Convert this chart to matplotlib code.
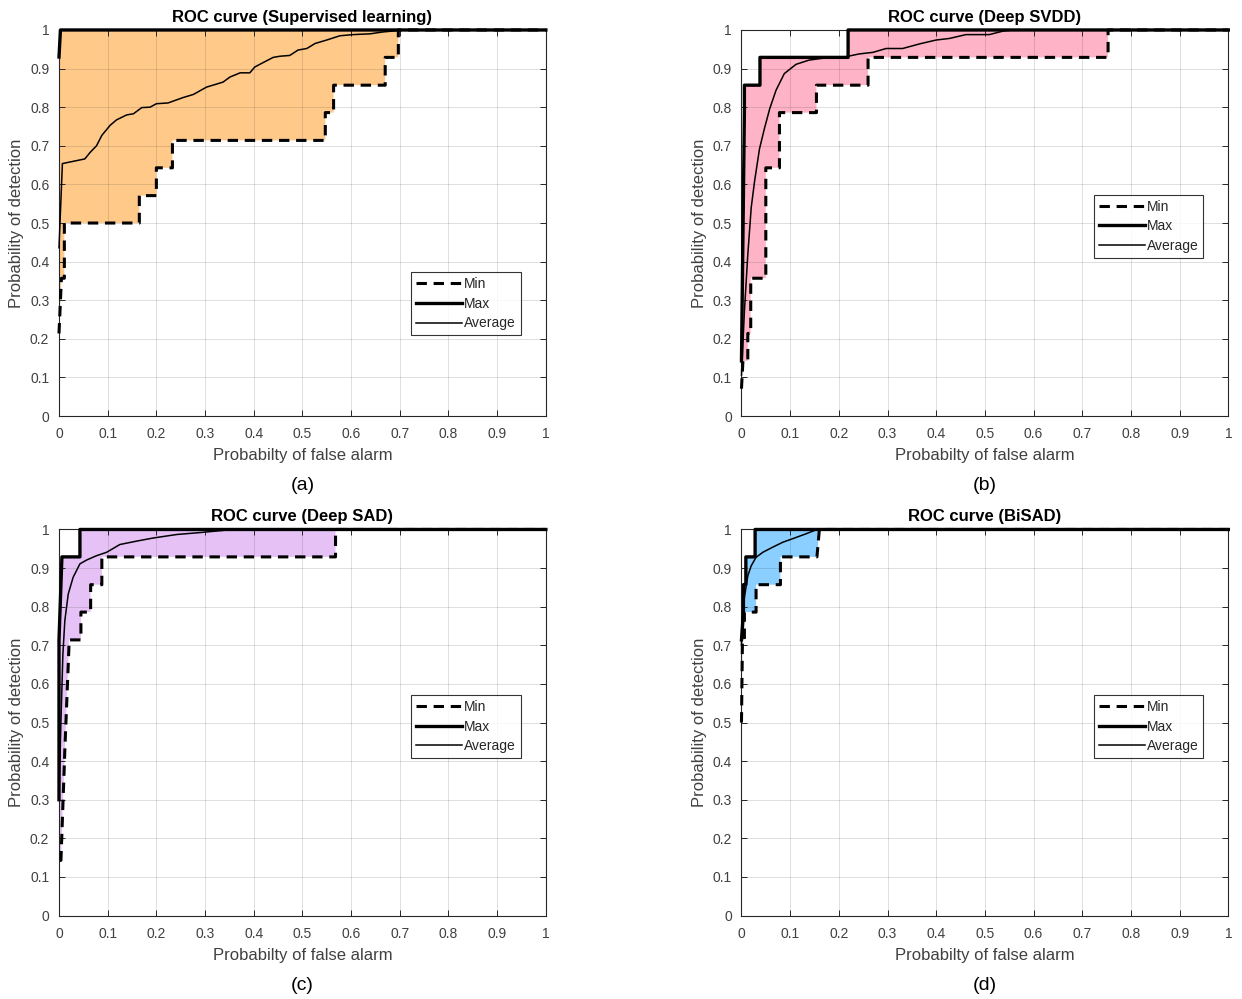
import numpy as np
import matplotlib.pyplot as plt

plt.rcParams['font.family'] = ['Liberation Sans', 'DejaVu Sans']

titles = ["ROC curve (Supervised learning)", "ROC curve (Deep SVDD)",
          "ROC curve (Deep SAD)", "ROC curve (BiSAD)"]
captions = ["(a)", "(b)", "(c)", "(d)"]
fill_colors = ["#FFC98A", "#FFB3C7", "#E6C1F6", "#8ACFFF"]

# (a) supervised learning
sup_min_x = [0, 0.005, 0.005, 0.011, 0.011, 0.165, 0.165, 0.2, 0.2, 0.233, 0.233, 0.547, 0.547,
             0.564, 0.564, 0.67, 0.67, 0.697, 0.697, 1]
sup_min_y = [0.214, 0.357, 0.357, 0.357, 0.5, 0.5, 0.571, 0.571, 0.643, 0.643, 0.714, 0.714, 0.786,
             0.786, 0.857, 0.857, 0.929, 0.929, 1, 1]
sup_max_x = [0, 0.003, 1]
sup_max_y = [0.93, 1, 1]
sup_avg_x = [0, 0.007, 0.053, 0.064, 0.077, 0.088, 0.105, 0.118, 0.139, 0.153, 0.17, 0.187, 0.2,
             0.224, 0.255, 0.276, 0.303, 0.337, 0.351, 0.372, 0.392, 0.402, 0.42, 0.44, 0.454,
             0.474, 0.491, 0.509, 0.526, 0.55, 0.577, 0.604, 0.639, 0.666, 0.693, 0.7, 1]
sup_avg_y = [0.436, 0.654, 0.666, 0.683, 0.70, 0.727, 0.753, 0.767, 0.78, 0.783, 0.799, 0.80, 0.809,
             0.811, 0.825, 0.833, 0.852, 0.865, 0.878, 0.889, 0.889, 0.904, 0.916, 0.929, 0.932,
             0.934, 0.948, 0.952, 0.965, 0.974, 0.985, 0.988, 0.99, 0.995, 0.998, 1, 1]

# (b) Deep SVDD
svdd_min_x = [0, 0.003, 0.013, 0.013, 0.019, 0.019, 0.05, 0.05, 0.078, 0.078, 0.154, 0.154,
              0.26, 0.26, 0.753, 0.753, 1]
svdd_min_y = [0.071, 0.143, 0.143, 0.214, 0.214, 0.357, 0.357, 0.643, 0.643, 0.786, 0.786, 0.857,
              0.857, 0.929, 0.929, 1, 1]
svdd_max_x = [0, 0.006, 0.006, 0.038, 0.038, 0.219, 0.219, 1]
svdd_max_y = [0.143, 0.786, 0.857, 0.857, 0.929, 0.929, 1, 1]
svdd_avg_x = [0, 0.006, 0.013, 0.02, 0.027, 0.037, 0.047, 0.058, 0.071, 0.088, 0.112, 0.139,
              0.174, 0.208, 0.242, 0.27, 0.297, 0.331, 0.366, 0.4, 0.427, 0.461, 0.509, 0.537,
              0.557, 1]
svdd_avg_y = [0.106, 0.271, 0.418, 0.54, 0.609, 0.692, 0.744, 0.796, 0.844, 0.887, 0.911, 0.922,
              0.928, 0.929, 0.938, 0.942, 0.952, 0.952, 0.964, 0.974, 0.978, 0.988, 0.988, 0.997,
              1, 1]

# (c) Deep SAD
sad_min_x = [0.002, 0.004, 0.012, 0.021, 0.045, 0.045, 0.065, 0.065, 0.088, 0.088, 0.568, 0.568, 1]
sad_min_y = [0.143, 0.143, 0.429, 0.714, 0.714, 0.786, 0.786, 0.857, 0.857, 0.929, 0.929, 1, 1]
sad_max_x = [0, 0, 0.006, 0.043, 0.043, 1]
sad_max_y = [0.30, 0.714, 0.929, 0.929, 1, 1]
sad_avg_x = [0, 0.004, 0.008, 0.012, 0.019, 0.029, 0.043, 0.057, 0.077, 0.098, 0.125, 0.16,
             0.194, 0.242, 0.29, 0.324, 0.358, 1]
sad_avg_y = [0.305, 0.504, 0.677, 0.764, 0.833, 0.876, 0.911, 0.921, 0.932, 0.941, 0.961, 0.97,
             0.978, 0.987, 0.992, 0.996, 1, 1]

# (d) BiSAD
bisad_min_x = [0, 0.002, 0.006, 0.006, 0.03, 0.03, 0.08, 0.08, 0.155, 0.16, 1]
bisad_min_y = [0.5, 0.714, 0.714, 0.786, 0.786, 0.857, 0.857, 0.929, 0.929, 1, 1]
bisad_max_x = [0, 0.004, 0.004, 0.009, 0.009, 0.028, 0.028, 1]
bisad_max_y = [0.714, 0.786, 0.857, 0.857, 0.929, 0.929, 1, 1]
bisad_avg_x = [0, 0.001, 0.006, 0.013, 0.02, 0.03, 0.044, 0.064, 0.085, 0.105, 0.133, 0.153, 1]
bisad_avg_y = [0.70, 0.764, 0.824, 0.88, 0.906, 0.928, 0.941, 0.954, 0.967, 0.976, 0.989, 0.999, 1]

curves = [
    (sup_min_x, sup_min_y, sup_max_x, sup_max_y, sup_avg_x, sup_avg_y),
    (svdd_min_x, svdd_min_y, svdd_max_x, svdd_max_y, svdd_avg_x, svdd_avg_y),
    (sad_min_x, sad_min_y, sad_max_x, sad_max_y, sad_avg_x, sad_avg_y),
    (bisad_min_x, bisad_min_y, bisad_max_x, bisad_max_y, bisad_avg_x, bisad_avg_y),
]
legend_tops = [0.372, 0.573, 0.571, 0.571]

ticks = np.round(np.arange(0, 1.01, 0.1), 1)
tick_labels = ["0" if t == 0 else ("1" if t == 1 else "%g" % t) for t in ticks]

fig = plt.figure(figsize=(12.42, 9.99), dpi=100)
lefts = [0.0475, 0.597, 0.0475, 0.597]
bottoms = [0.5835, 0.5835, 0.0835, 0.0835]

axcol = "#262626"
for i in range(4):
    ax = fig.add_axes([lefts[i], bottoms[i], 0.392, 0.3865])
    mnx, mny, mxx, mxy, avx, avy = curves[i]

    # shaded band between best and worst run
    px = np.concatenate([mxx, mnx[::-1]])
    py = np.concatenate([mxy, mny[::-1]])
    ax.fill(px, py, color=fill_colors[i], lw=0, zorder=1)

    ax.plot(mnx, mny, "k--", lw=2.2, dashes=(3.4, 2.2), label="Min", zorder=3, clip_on=False)
    ax.plot(mxx, mxy, "k-", lw=2.4, label="Max", zorder=3, clip_on=False)
    ax.plot(avx, avy, "k-", lw=1.1, label="Average", zorder=3, clip_on=False)

    ax.set_xlim(0, 1)
    ax.set_ylim(0, 1)
    ax.set_xticks(ticks)
    ax.set_yticks(ticks)
    ax.set_xticklabels(tick_labels)
    ax.set_yticklabels(tick_labels)
    ax.set_axisbelow(False)
    ax.grid(True, color=axcol, alpha=0.15, lw=0.7)
    ax.tick_params(direction="in", top=True, right=True, length=4, width=0.7,
                   colors=axcol, labelsize=10, labelcolor="#404040")
    ax.tick_params(axis="x", pad=8)
    ax.tick_params(axis="y", pad=7)
    for s in ax.spines.values():
        s.set_color(axcol)
        s.set_linewidth(0.8)

    ax.set_title(titles[i], fontsize=12, fontweight="bold", color="black", pad=6)
    ax.set_xlabel("Probabilty of false alarm", fontsize=12, color="#404040", labelpad=5)
    ax.set_ylabel("Probability of detection", fontsize=12, color="#404040", labelpad=4)

    leg = ax.legend(loc="upper left", bbox_to_anchor=(0.724, legend_tops[i]), fontsize=10,
                    frameon=True, fancybox=False, edgecolor="black", handlelength=3.3,
                    handletextpad=0.15, borderpad=0.35, labelspacing=0.4, borderaxespad=0)
    leg.get_frame().set_linewidth(0.8)
    for t in leg.get_texts():
        t.set_color("#262626")

    ax.text(0.5, -0.18, captions[i], transform=ax.transAxes, ha="center", va="center",
            fontsize=14, color="black")

fig.savefig("out.png", dpi=100)
